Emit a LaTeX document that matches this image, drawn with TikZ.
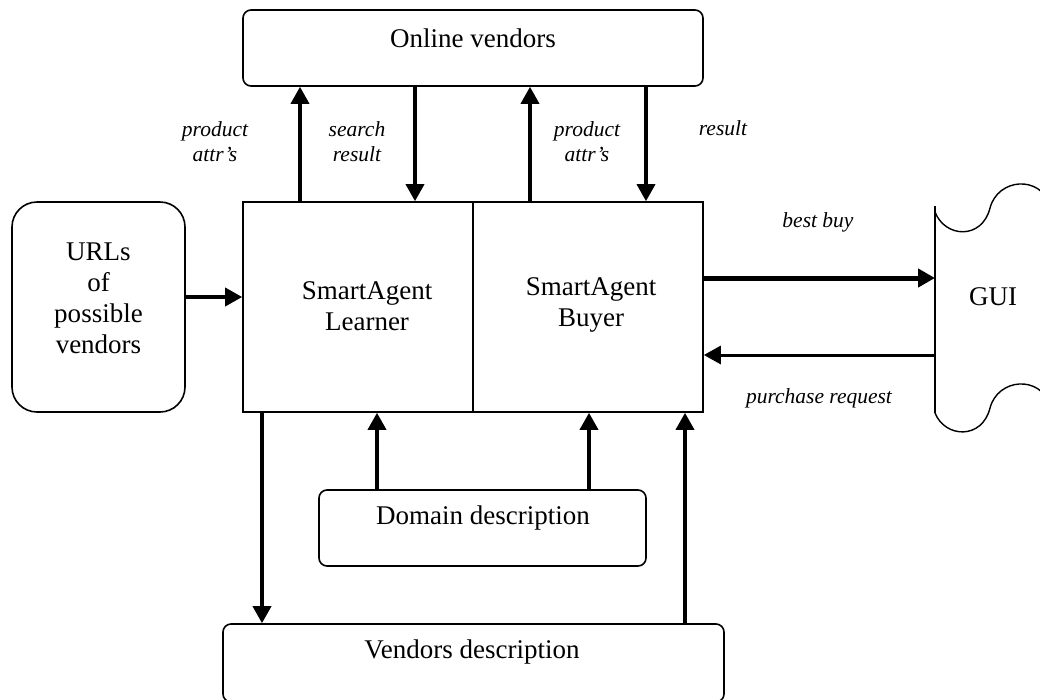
\documentclass[tikz,border=0pt]{standalone}
\usepackage{fontspec}
\setmainfont{Liberation Serif}
\usetikzlibrary{arrows.meta,calc}

\tikzset{
  boxline/.style={draw, line width=1.6pt},
  rbox/.style={boxline, rounded corners=8pt, inner sep=0pt},
  sqbox/.style={boxline, inner sep=0pt, minimum width=230pt, minimum height=210pt},
  maintxt/.style={inner sep=0pt, align=center, font=\fontsize{27}{31}\selectfont},
  lbl/.style={inner sep=0pt, align=center, font=\fontsize{21.5}{25}\selectfont\itshape},
  flow/.style={line width=3.5pt, -{Triangle[length=17pt,width=18pt]}},
}

\begin{document}
\begin{tikzpicture}[x=1pt,y=-1pt]
\useasboundingbox (0,0) rectangle (1040,699);
\clip (0,0) rectangle (1040,699);

% boxes
\node[rbox, minimum width=460pt, minimum height=76pt] (online) at (473,48) {};
\node[maintxt] (onlinetxt) at (473,38) {Online vendors};

\node[sqbox] (learner) at (358,307) {};
\node[maintxt] (learnertxt) at (367,306) {SmartAgent\\Learner};
\node[sqbox] (buyer) at (588,307) {};
\node[maintxt] (buyertxt) at (591,305) {SmartAgent\\Buyer};

\node[rbox, rounded corners=25pt, minimum width=173pt, minimum height=210pt] (urls) at (98.5,307) {};
\node[maintxt] (urlstxt) at (98.5,298) {URLs\\of\\possible\\vendors};

\node[rbox, minimum width=327pt, minimum height=76pt] (domain) at (482.5,528) {};
\node[maintxt] (domaintxt) at (483,518) {Domain description};

\node[rbox, minimum width=501pt, minimum height=78pt] (vendors) at (473.5,663) {};
\node[maintxt] (vendorstxt) at (472,652) {Vendors description};

% GUI: open shape with wavy top and bottom edges
\coordinate (guitop) at (935,206);
\coordinate (guibot) at (935,413);
\draw[line width=1.6pt] (guitop) -- (guibot);
\draw[line width=1.4pt] (935,212) .. controls (945,238) and (982,240) .. (990,208)
  .. controls (998,178) and (1040,175) .. (1050,205);
\draw[line width=1.4pt] (guibot) .. controls (945,438) and (982,440) .. (990,408)
  .. controls (998,378) and (1040,375) .. (1050,405);
\node[maintxt] (gui) at (993,297) {GUI};

% x positions of the vertical connectors
\coordinate (xa) at (300,0);
\coordinate (xb) at (415,0);
\coordinate (xc) at (530,0);
\coordinate (xd) at (646,0);
\coordinate (xe) at (262,0);
\coordinate (xf) at (377,0);
\coordinate (xg) at (589,0);
\coordinate (xh) at (685,0);
\coordinate (ya) at (0,297);
\coordinate (yb) at (0,278);
\coordinate (yc) at (0,355);

% connectors to and from the online vendors
\draw[flow] (learner.north -| xa) -- (online.south -| xa);
\draw[flow] (online.south -| xb) -- (learner.north -| xb);
\draw[flow] (buyer.north -| xc) -- (online.south -| xc);
\draw[flow] (online.south -| xd) -- (buyer.north -| xd);

% URLs into the learner
\draw[flow] (urls.east |- ya) -- (learner.west |- ya);

% buyer and GUI
\draw[flow, line width=5pt] (buyer.east |- yb) -- (guitop |- yb);
\draw[flow, line width=3pt] (guitop |- yc) -- (buyer.east |- yc);

% descriptions
\draw[flow] (learner.south -| xe) -- (vendors.north -| xe);
\draw[flow] (domain.north -| xf) -- (learner.south -| xf);
\draw[flow] (domain.north -| xg) -- (buyer.south -| xg);
\draw[flow] (vendors.north -| xh) -- (buyer.south -| xh);

% connector labels
\node[lbl] (l1) at (215,142) {product\\attr’s};
\node[lbl] (l2) at (357,142) {search\\result};
\node[lbl] (l3) at (587,142) {product\\attr’s};
\node[lbl] (l4) at (723,128) {result};
\node[lbl] (l5) at (818,222) {best buy};
\node[lbl] (l6) at (819,398) {purchase request};
\end{tikzpicture}
\end{document}
